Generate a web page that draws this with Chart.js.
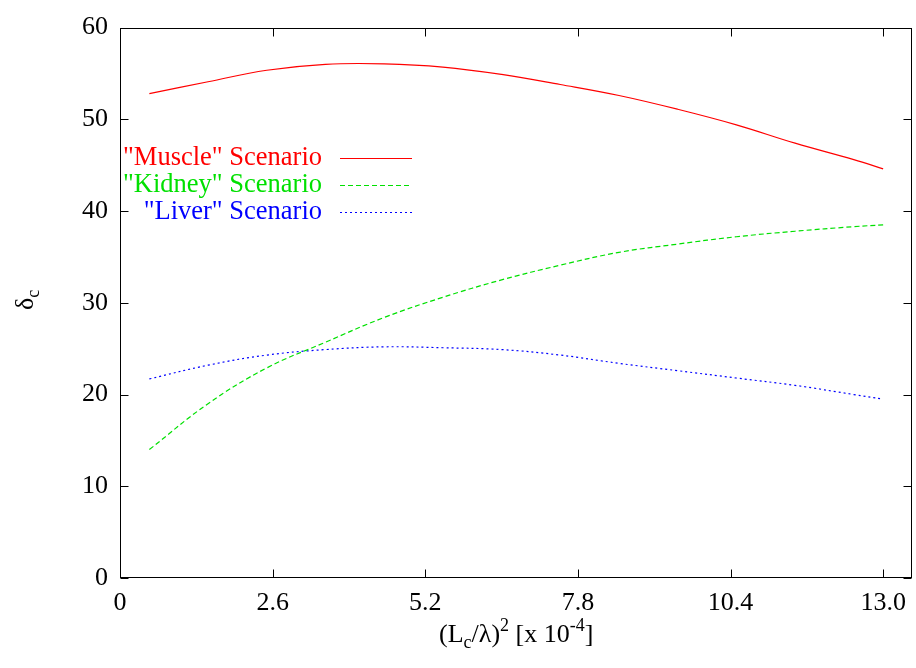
<!DOCTYPE html>
<html>
<head>
<meta charset="utf-8">
<script src="https://cdn.jsdelivr.net/npm/chart.js@4.4.1/dist/chart.umd.min.js"></script>
<style>
  html, body { margin: 0; padding: 0; background: #fff; }
  #wrap { width: 916px; height: 668px; }
</style>
</head>
<body>
<div id="wrap"><canvas id="chart"></canvas></div>
<script>
// values
var xValues = [0.5, 1.5, 2.5, 3.5, 4.5, 5.5, 6.5, 7.5, 8.5, 9.5, 10.5, 11.5, 12.5, 13.0];
var muscle  = [52.8, 54.1, 55.35, 56.0, 56.05, 55.7, 54.9, 53.8, 52.6, 51.1, 49.4, 47.4, 45.6, 44.6];
var kidney  = [14.0, 19.0, 22.9, 25.7, 28.4, 30.6, 32.5, 34.1, 35.5, 36.4, 37.2, 37.8, 38.3, 38.5];
var liver   = [21.7, 23.2, 24.3, 24.9, 25.2, 25.1, 24.9, 24.3, 23.4, 22.6, 21.8, 21.0, 20.0, 19.5];

var seriesLabels = ['"Muscle" Scenario', '"Kidney" Scenario', '"Liver" Scenario'];
var seriesColors = ['#ff0000', '#00e000', '#0000ff'];
var seriesDash = [[], [5, 3], [2, 3]];

var xTicks = [0, 2.6, 5.2, 7.8, 10.4, 13.0];
var xTickLabels = ['0', '2.6', '5.2', '7.8', '10.4', '13.0'];
var yTicks = [0, 10, 20, 30, 40, 50, 60];

var serif = '"Liberation Serif", "DejaVu Serif", serif';

function points(ys) {
  return xValues.map(function (x, i) { return { x: x, y: ys[i] }; });
}

// draw a run of text pieces with sub/superscripts, centred on x
function richText(ctx, parts, cx, baseY) {
  var w = 0;
  parts.forEach(function (p) {
    ctx.font = (p.s ? 18 : 26) + 'px ' + serif;
    p.w = ctx.measureText(p.t).width;
    w += p.w;
  });
  var x = cx - w / 2;
  ctx.textAlign = 'left';
  ctx.textBaseline = 'alphabetic';
  parts.forEach(function (p) {
    ctx.font = (p.s ? 18 : 26) + 'px ' + serif;
    var dy = p.s === 'sub' ? 6 : (p.s === 'sup' ? -11 : 0);
    ctx.fillText(p.t, x, baseY + dy);
    x += p.w;
  });
}

var gnuplotFrame = {
  id: 'gnuplotFrame',
  beforeDraw: function (chart) {
    var ctx = chart.ctx;
    ctx.save();
    ctx.fillStyle = '#fff';
    ctx.fillRect(0, 0, chart.width, chart.height);
    ctx.restore();
  },
  afterDraw: function (chart) {
    var ctx = chart.ctx, ca = chart.chartArea;
    var xs = chart.scales.x, ys = chart.scales.y;
    var l = Math.round(ca.left) + 0.5, r = Math.round(ca.right) - 0.5;
    var t = Math.round(ca.top) + 0.5, b = Math.round(ca.bottom) - 0.5;
    ctx.save();
    ctx.strokeStyle = '#000';
    ctx.lineWidth = 1;
    ctx.setLineDash([]);
    ctx.strokeRect(l, t, r - l, b - t);

    // inward tick marks, mirrored on top and right
    ctx.beginPath();
    xTicks.forEach(function (v) {
      var px = Math.round(xs.getPixelForValue(v)) + 0.5;
      ctx.moveTo(px, b); ctx.lineTo(px, b - 8);
      ctx.moveTo(px, t); ctx.lineTo(px, t + 8);
    });
    yTicks.forEach(function (v) {
      var py = Math.round(ys.getPixelForValue(v)) + 0.5;
      ctx.moveTo(l, py); ctx.lineTo(l + 8, py);
      ctx.moveTo(r, py); ctx.lineTo(r - 8, py);
    });
    ctx.stroke();

    // key, text right aligned with line sample on its right
    chart.data.datasets.forEach(function (ds, i) {
      var y = 158 + i * 27;
      ctx.font = '26.5px ' + serif;
      ctx.textAlign = 'right';
      ctx.textBaseline = 'middle';
      ctx.fillStyle = ds.borderColor;
      ctx.fillText(ds.label, 322, y);
      ctx.strokeStyle = ds.borderColor;
      ctx.lineWidth = ds.borderWidth;
      ctx.setLineDash(ds.borderDash);
      ctx.beginPath();
      ctx.moveTo(340, y + 0.5);
      ctx.lineTo(412, y + 0.5);
      ctx.stroke();
    });
    ctx.setLineDash([]);

    // axis titles
    ctx.fillStyle = '#000';
    richText(ctx, [
      { t: '(L' }, { t: 'c', s: 'sub' }, { t: '/\u03bb)' }, { t: '2', s: 'sup' },
      { t: ' [x 10' }, { t: '-4', s: 'sup' }, { t: ']' }
    ], (ca.left + ca.right) / 2, 642);

    ctx.translate(33, 300);
    ctx.rotate(-Math.PI / 2);
    richText(ctx, [{ t: '\u03b4' }, { t: 'c', s: 'sub' }], 0, 0);
    ctx.restore();
  }
};

new Chart(document.getElementById('chart'), {
  type: 'line',
  data: {
    datasets: [0, 1, 2].map(function (i) {
      return {
        label: seriesLabels[i],
        data: points([muscle, kidney, liver][i]),
        borderColor: seriesColors[i],
        backgroundColor: seriesColors[i],
        borderWidth: 1.2,
        borderDash: seriesDash[i],
        pointRadius: 0,
        tension: 0.4,
        fill: false
      };
    })
  },
  options: {
    responsive: true,
    maintainAspectRatio: false,
    animation: false,
    layout: { padding: { top: 18, right: 3, left: 0, bottom: 0 } },
    plugins: {
      legend: { display: false },
      tooltip: { enabled: false }
    },
    scales: {
      x: {
        type: 'linear',
        min: 0,
        max: 13.5,
        afterBuildTicks: function (s) { s.ticks = xTicks.map(function (v) { return { value: v }; }); },
        afterFit: function (s) { s.height = 90; },
        grid: { display: false, drawTicks: false },
        border: { display: false },
        ticks: {
          autoSkip: false,
          maxRotation: 0,
          padding: 10,
          color: '#000',
          font: { family: serif, size: 26 },
          callback: function (v, i) { return xTickLabels[i]; }
        }
      },
      y: {
        min: 0,
        max: 60,
        afterBuildTicks: function (s) { s.ticks = yTicks.map(function (v) { return { value: v }; }); },
        afterFit: function (s) { s.width = 120; },
        grid: { display: false, drawTicks: false },
        border: { display: false },
        ticks: {
          padding: 12,
          color: '#000',
          font: { family: serif, size: 26 }
        }
      }
    }
  },
  plugins: [gnuplotFrame]
});
</script>
</body>
</html>
